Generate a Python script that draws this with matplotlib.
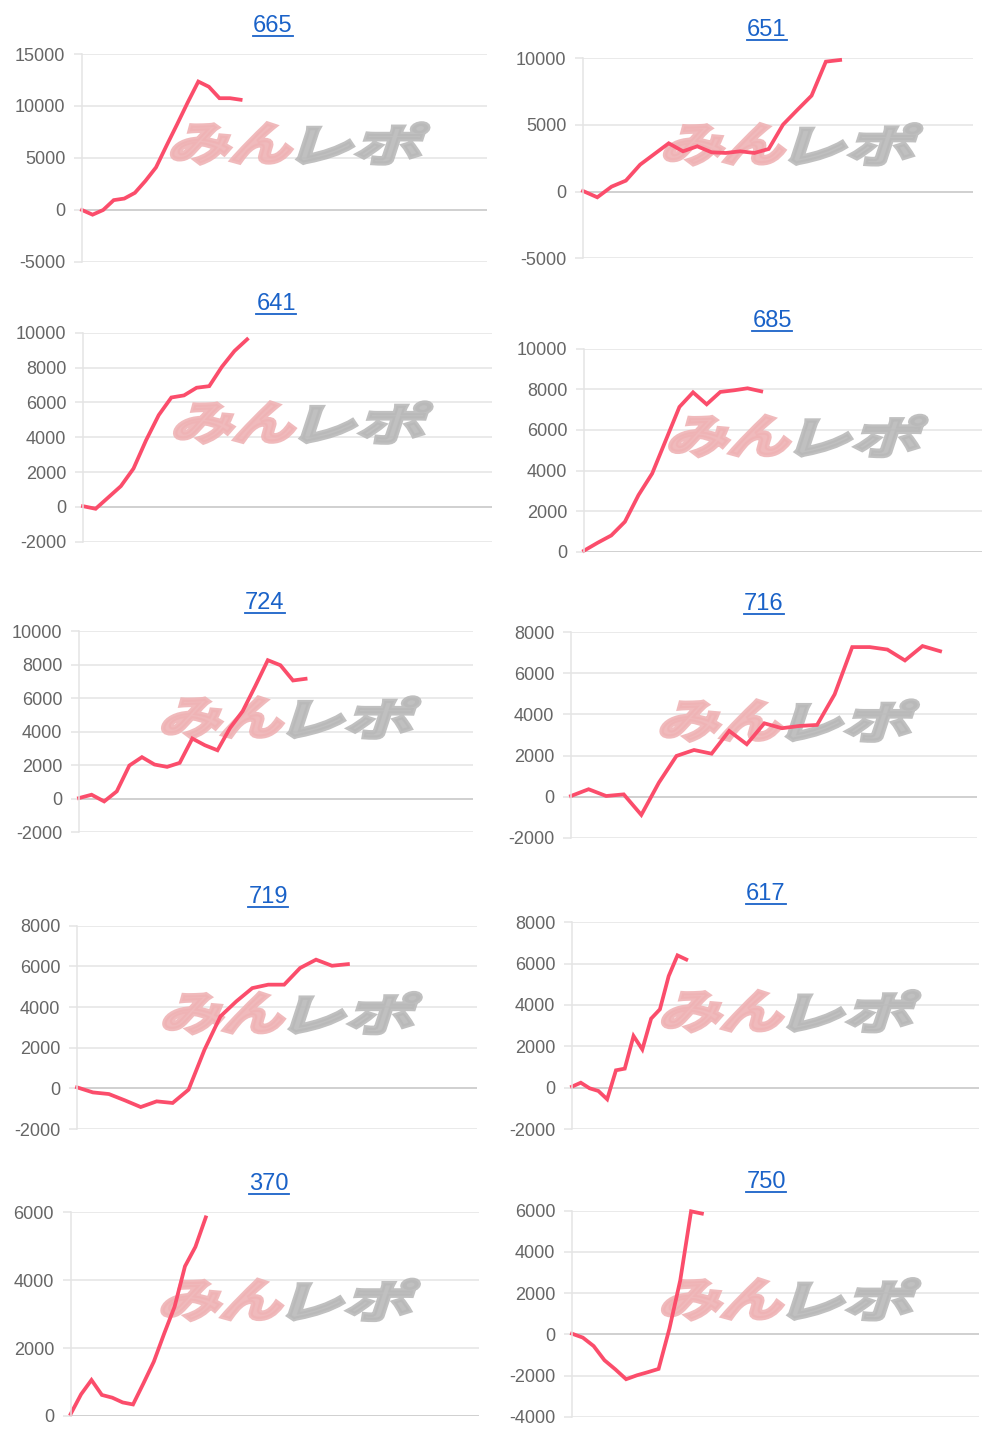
import matplotlib
matplotlib.use('Agg')
import matplotlib.pyplot as plt
from matplotlib.textpath import TextPath
from matplotlib.font_manager import FontProperties
from matplotlib.patches import PathPatch
from matplotlib.transforms import Affine2D
from matplotlib.lines import Line2D

# ---- data ----
titles = ['665', '651', '641', '685', '724', '716', '719', '617', '370', '750']

v665 = [0, -450, 0, 950, 1100, 1650, 2800, 4100, 6200, 8250, 10350, 12350, 11850, 10750, 10750, 10600]
v651 = [50, -425, 375, 825, 2025, 2825, 3625, 3025, 3400, 2950, 2900, 3025, 2900, 3200, 5025, 6125, 7200, 9750, 9875]
v641 = [40, -110, 540, 1190, 2200, 3830, 5270, 6280, 6400, 6840, 6930, 8040, 8950, 9620]
v685 = [50, 440, 800, 1475, 2790, 3850, 5490, 7130, 7850, 7260, 7870, 7950, 8050, 7900]
v724 = [40, 240, -160, 440, 1980, 2480, 2040, 1900, 2140, 3590, 3190, 2890, 4220, 5220, 6710, 8260, 7960, 7050, 7150]
v716 = [30, 360, 30, 110, -890, 680, 1980, 2270, 2090, 3200, 2550, 3570, 3330, 3440, 3490, 4980, 7280, 7280, 7160, 6630, 7330, 7080]
v719 = [50, -200, -280, -590, -920, -640, -720, -65, 1900, 3540, 4280, 4930, 5100, 5100, 5920, 6330, 6030, 6110]
v617 = [50, 240, -30, -160, -560, 840, 920, 2500, 1850, 3340, 3790, 5400, 6400, 6200]
v370 = [60, 640, 1060, 620, 540, 400, 340, 960, 1600, 2430, 3220, 4410, 4980, 5850]
v750 = [30, -160, -570, -1260, -1700, -2180, -1990, -1840, -1680, 275, 2620, 5970, 5860]

series = [v665, v651, v641, v685, v724, v716, v719, v617, v370, v750]
ylims = [(-5000, 15000), (-5000, 10000), (-2000, 10000), (0, 10000), (-2000, 10000),
         (-2000, 8000), (-2000, 8000), (-2000, 8000), (0, 6000), (-4000, 6000)]
ysteps = [5000, 5000, 2000, 2000, 2000, 2000, 2000, 2000, 2000, 2000]

# ---- layout, in image pixels: left, right, top, bottom, x slots, title x, title y ----
W, H = 1000, 1440
boxes = [
    (82, 487, 54, 262, 38.3, 273, 26),
    (583, 973, 58.3, 258.3, 27.3, 767, 30),
    (83, 492, 332.7, 541.7, 32.4, 276, 304),
    (584, 982, 348.7, 551.7, 29.2, 772, 321),
    (79, 473, 631, 832.3, 31.3, 265, 603),
    (571, 977, 632.3, 837.7, 23.1, 764, 604),
    (77, 477, 925.7, 1129, 25.1, 268, 897),
    (572, 979, 922.3, 1129, 46.3, 766, 894),
    (70.7, 479, 1212.3, 1416, 39.3, 269, 1184),
    (572, 979, 1210.7, 1416.7, 37.6, 766, 1182),
]

LINE = '#fb4d6b'
GRID = '#e4e4e4'
ZERO = '#c4c4c4'
TICK = '#666666'
LINK = '#1a62c8'

plt.rcParams['font.family'] = ['Liberation Sans', 'DejaVu Sans']
plt.rcParams['axes.unicode_minus'] = False

fig = plt.figure(figsize=(W / 100, H / 100), dpi=100)
fig.patch.set_facecolor('white')

jp = FontProperties(family='Noto Sans CJK JP', weight='bold')


def watermark(ax, cx, cy):
    # "みん" pink + "レポ" grey, leaning forward, in image pixel coords
    parts = [('みん', cx - 124, 118, '#efb3b5'), ('レポ', cx + 4, 120, '#b9b9b9')]
    for txt, x0, w, col in parts:
        tp = TextPath((0, 0), txt, size=50, prop=jp)
        ext = tp.get_extents()
        sx = w / ext.width
        sy = 40 / ext.height
        tr = (Affine2D().translate(-ext.x0, -ext.y0).scale(sx, sy)
              .skew_deg(18, 0).translate(x0 - 6, H - cy - 20))
        path = tr.transform_path(tp)
        patch = PathPatch(path, facecolor=col, edgecolor=col, lw=3.2,
                          joinstyle='miter', alpha=0.9,
                          transform=Affine2D().scale(1 / W, 1 / H) + fig.transFigure,
                          zorder=1.5, clip_on=False)
        ax.add_patch(patch)


title_texts = []
for i, vals in enumerate(series):
    l, r, t, b, xmax, tx, ty = boxes[i]
    ax = fig.add_axes([l / W, 1 - b / H, (r - l) / W, (b - t) / H])
    ax.set_facecolor('none')
    lo, hi = ylims[i]
    ticks = list(range(lo, hi + 1, ysteps[i]))
    ax.set_ylim(lo, hi)
    ax.set_xlim(0, xmax)
    ax.set_yticks(ticks)
    ax.set_xticks([])
    for tk in ticks:
        ax.axhline(tk, color=ZERO if tk == 0 else GRID, lw=1.1, zorder=0.5)
    for s in ['top', 'right', 'bottom']:
        ax.spines[s].set_visible(False)
    ax.spines['left'].set_color(GRID)
    ax.spines['left'].set_linewidth(1.1)
    ax.tick_params(axis='y', length=6, width=1.1, color=GRID, pad=6,
                   labelsize=13, labelcolor=TICK)
    ax.plot(range(len(vals)), vals, color=LINE, lw=2.7, zorder=2,
            solid_joinstyle='miter', clip_on=False)

    cx = l + 0.535 * (r - l)
    cy = b - 0.57 * (b - t)
    watermark(ax, cx, cy)

    tt = fig.text(tx / W, 1 - ty / H, titles[i], ha='center', va='center',
                  fontsize=17, color=LINK)
    title_texts.append(tt)

# underline the titles like links
fig.canvas.draw()
ren = fig.canvas.get_renderer()
for tt in title_texts:
    bb = tt.get_window_extent(ren).transformed(fig.transFigure.inverted())
    yl = bb.y0 + 1.0 / H
    fig.add_artist(Line2D([bb.x0, bb.x1], [yl, yl], color=LINK, lw=1.3,
                          transform=fig.transFigure))

fig.savefig('out.png', dpi=100, facecolor='white')
